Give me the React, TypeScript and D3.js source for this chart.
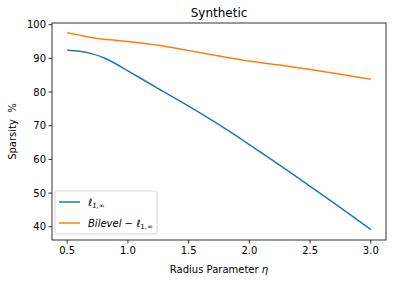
import * as d3 from "d3";

const etas = [0.5, 0.6, 0.7, 0.8, 0.9, 1.0, 1.25, 1.5, 1.75, 2.0, 2.25, 2.5, 2.75, 3.0];
const l1inf = [92.4, 92.1, 91.4, 90.2, 88.4, 86.3, 81.0, 75.8, 70.3, 64.4, 58.3, 52.0, 45.7, 39.2];
const bilevel = [97.6, 96.9, 96.2, 95.7, 95.4, 95.0, 93.9, 92.3, 90.7, 89.2, 88.0, 86.7, 85.3, 83.8];
const xTicks = [0.5, 1.0, 1.5, 2.0, 2.5, 3.0];
const yTicks = [40, 50, 60, 70, 80, 90, 100];

const W = 393;
const H = 282;
const M = { left: 52, right: 386, top: 23, bottom: 240 };
const FONT = "DejaVu Sans, sans-serif";

const Sub = ({ children }: { children: string }) => (
    <tspan fontSize={7} dy={2.5}>{children}</tspan>
);

export default function App() {
    const x = d3.scaleLinear().domain([0.375, 3.125]).range([M.left, M.right]);
    const y = d3.scaleLinear().domain([36.07, 100.5]).range([M.bottom, M.top]);

    const line = d3
        .line<number>()
        .x((_, i) => x(etas[i]))
        .y(d => y(d))
        .curve(d3.curveMonotoneX);

    const series = [
        { values: l1inf, color: "#1f77b4" },
        { values: bilevel, color: "#ff7f0e" }
    ];

    return (
        <svg width={W} height={H} style={{ position: "absolute", left: 0, top: 0 }} fontFamily={FONT}>
            <rect width={W} height={H} fill="#fff" />
            <text x={(M.left + M.right) / 2} y={17} textAnchor="middle" fontSize={12}>
                Synthetic
            </text>

            {series.map((s, i) => (
                <path key={i} d={line(s.values) ?? ""} fill="none" stroke={s.color} strokeWidth={1.5} />
            ))}

            <rect
                x={M.left}
                y={M.top}
                width={M.right - M.left}
                height={M.bottom - M.top}
                fill="none"
                stroke="#000"
                strokeWidth={0.8}
            />

            {xTicks.map(t => (
                <g key={t} transform={`translate(${x(t)},${M.bottom})`}>
                    <line y2={3.5} stroke="#000" strokeWidth={0.8} />
                    <text y={14} textAnchor="middle" fontSize={10}>
                        {t.toFixed(1)}
                    </text>
                </g>
            ))}
            {yTicks.map(t => (
                <g key={t} transform={`translate(${M.left},${y(t)})`}>
                    <line x2={-3.5} stroke="#000" strokeWidth={0.8} />
                    <text x={-6} dy="0.35em" textAnchor="end" fontSize={10}>
                        {t}
                    </text>
                </g>
            ))}

            <text x={(M.left + M.right) / 2} y={273} textAnchor="middle" fontSize={10}>
                Radius Parameter <tspan fontStyle="italic">η</tspan>
            </text>
            <text
                transform={`translate(16,${(M.top + M.bottom) / 2}) rotate(-90)`}
                textAnchor="middle"
                fontSize={10}
            >
                Sparsity {"\u00a0"}%
            </text>

            <g>
                <rect x={55} y={191} width={102} height={43} rx={2} fill="#fff" fillOpacity={0.8} stroke="#ccc" strokeWidth={0.8} />
                <line x1={59} x2={80} y1={202} y2={202} stroke="#1f77b4" strokeWidth={1.5} />
                <text x={88} y={205.5} fontSize={10} fontStyle="italic">
                    ℓ<Sub>1,∞</Sub>
                </text>
                <line x1={59} x2={80} y1={223} y2={223} stroke="#ff7f0e" strokeWidth={1.5} />
                <text x={88} y={226.5} fontSize={10}>
                    <tspan fontStyle="italic">Bilevel</tspan> − <tspan fontStyle="italic">ℓ</tspan>
                    <Sub>1,∞</Sub>
                </text>
            </g>
        </svg>
    );
}
